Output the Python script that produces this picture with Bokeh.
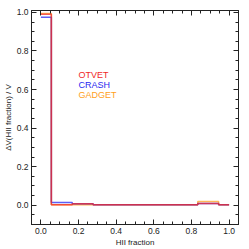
from bokeh.plotting import figure
from bokeh.models import LinearAxis, SingleIntervalTicker, Range1d, PrintfTickFormatter, CustomJSTickFormatter
from bokeh.core.properties import value
from bokeh.embed import file_html
from bokeh.resources import INLINE

# data
hii_frac = [0.0, 0.111, 0.222, 0.333, 0.444, 0.556, 0.667, 0.778, 0.889, 1.0]
otvet = [0.990, 0.003, 0.007, 0.003, 0.003, 0.003, 0.003, 0.003, 0.009, 0.003]
crash = [0.975, 0.014, 0.007, 0.003, 0.003, 0.003, 0.003, 0.003, 0.009, 0.003]
gadget = [0.995, 0.003, 0.003, 0.003, 0.003, 0.003, 0.003, 0.003, 0.019, 0.003]
names = ["OTVET", "CRASH", "GADGET"]
colors = ["#f02828", "#2828f0", "#ffa020"]

FONT = "Liberation Sans"

p = figure(width=241, height=249, output_backend="svg", toolbar_location=None,
           x_range=Range1d(-0.05, 1.05), y_range=Range1d(-0.1, 1.01),
           x_axis_location=None, y_axis_location=None,
           min_border_left=0, min_border_right=3, min_border_top=10, min_border_bottom=0)
p.xgrid.visible = False
p.ygrid.visible = False
p.outline_line_color = "#222222"
p.background_fill_color = "white"


def mk_axis(side, show_labels, label=None):
    ax = LinearAxis(ticker=SingleIntervalTicker(interval=0.2, num_minor_ticks=4))
    ax.major_tick_in = 5
    ax.major_tick_out = 0
    ax.minor_tick_in = 3
    ax.minor_tick_out = 0
    ax.axis_line_color = "#222222"
    ax.major_tick_line_color = "#222222"
    ax.minor_tick_line_color = "#222222"
    ax.major_label_text_font = FONT
    ax.major_label_text_color = "#222222"
    ax.axis_label_text_font = FONT
    ax.axis_label_text_font_style = "normal"
    ax.axis_label_text_color = "#222222"
    if show_labels:
        ax.formatter = PrintfTickFormatter(format="%.1f")
        ax.major_label_text_font_size = "8.5px"
        ax.major_label_standoff = 3
        ax.axis_label = label
        ax.axis_label_text_font_size = "8px"
        ax.axis_label_standoff = 1
    else:
        ax.formatter = CustomJSTickFormatter(code="return ''")
        ax.major_label_standoff = 0
    p.add_layout(ax, side)
    return ax


mk_axis("below", True, "HII fraction")
mk_axis("left", True, "ΔV(HII fraction) / V")
mk_axis("above", False)
mk_axis("right", False)

for ys, c in [(gadget, colors[2]), (crash, colors[1]), (otvet, colors[0])]:
    p.step(hii_frac, ys, mode="center", line_color=c, line_width=1.5, line_alpha=0.75)

label_x = [0.2, 0.2, 0.2]
label_y = [0.675, 0.625, 0.573]
p.text(label_x, label_y, text=names, text_color=colors, text_font=value(FONT),
       text_font_size="9px", text_baseline="middle", text_align="left")

open("out.html", "w").write(file_html(p, INLINE))
